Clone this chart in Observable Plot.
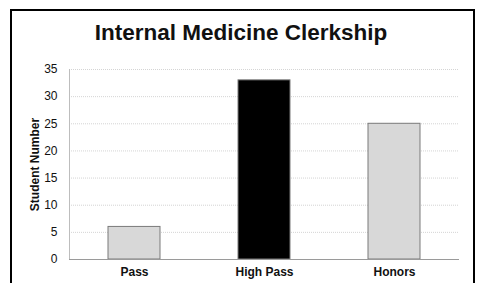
<!DOCTYPE html>
<html>
<head>
<meta charset="utf-8">
<script src="https://cdn.jsdelivr.net/npm/d3@7"></script>
<script src="https://cdn.jsdelivr.net/npm/@observablehq/plot@0.6"></script>
<style>
  html, body { margin: 0; padding: 0; background: #fff; }
  #wrap { position: relative; width: 480px; height: 283px; overflow: hidden; background: #fff; font-family: "Liberation Sans", Arial, sans-serif; }
  #border { position: absolute; left: 10px; top: 9px; width: 465px; height: 300px; border: 2px solid #000; box-sizing: border-box; pointer-events: none; }
  #title { height: 50px; padding-top: 19px; line-height: 28px; text-align: center; font-weight: bold; font-size: 22.5px; color: #111; padding-left: 2px; box-sizing: border-box; }
  #chart svg { display: block; }
</style>
</head>
<body>
<div id="wrap">
  <div id="title">Internal Medicine Clerkship</div>
  <div id="chart"></div>
  <div id="border"></div>
</div>
<script>
const categories = ["Pass", "High Pass", "Honors"];
const counts = [6, 33, 25];
const barColors = ["#d8d8d8", "#000000", "#d8d8d8"];
const yTicks = [0, 5, 10, 15, 20, 25, 30, 35];
const yLabel = "Student Number";

const data = categories.map((c, i) => ({category: c, count: counts[i], color: barColors[i]}));

const chart = Plot.plot({
  width: 480,
  height: 233,
  marginTop: 19,
  marginBottom: 24,
  marginLeft: 69,
  marginRight: 21,
  style: {fontFamily: "'Liberation Sans', Arial, sans-serif", fontSize: "12px", color: "#111", background: "transparent"},
  x: {domain: categories, paddingInner: 0.6, paddingOuter: 0.3, label: null},
  y: {domain: [0, 35], label: null},
  color: {type: "identity"},
  marks: [
    Plot.gridY(yTicks, {stroke: "#d4d4d4", strokeOpacity: 1, strokeDasharray: "1,1"}),
    Plot.frame({anchor: "left", stroke: "#bdbdbd"}),
    Plot.barY(data, {x: "category", y: "count", fill: "color", stroke: "#7a7a7a", strokeWidth: 1}),
    Plot.ruleY([0], {stroke: "#9a9a9a"}),
    Plot.axisY(yTicks, {tickSize: 0, tickPadding: 12, label: null, fontSize: 12}),
    Plot.axisX({tickSize: 0, tickPadding: 8, label: null, fontWeight: "bold", fontSize: 12}),
    Plot.text([yLabel], {frameAnchor: "left", textAnchor: "middle", rotate: -90, dx: -34, text: d => d, fontWeight: "bold", fontSize: 12})
  ]
});
document.getElementById("chart").appendChild(chart);
</script>
</body>
</html>
